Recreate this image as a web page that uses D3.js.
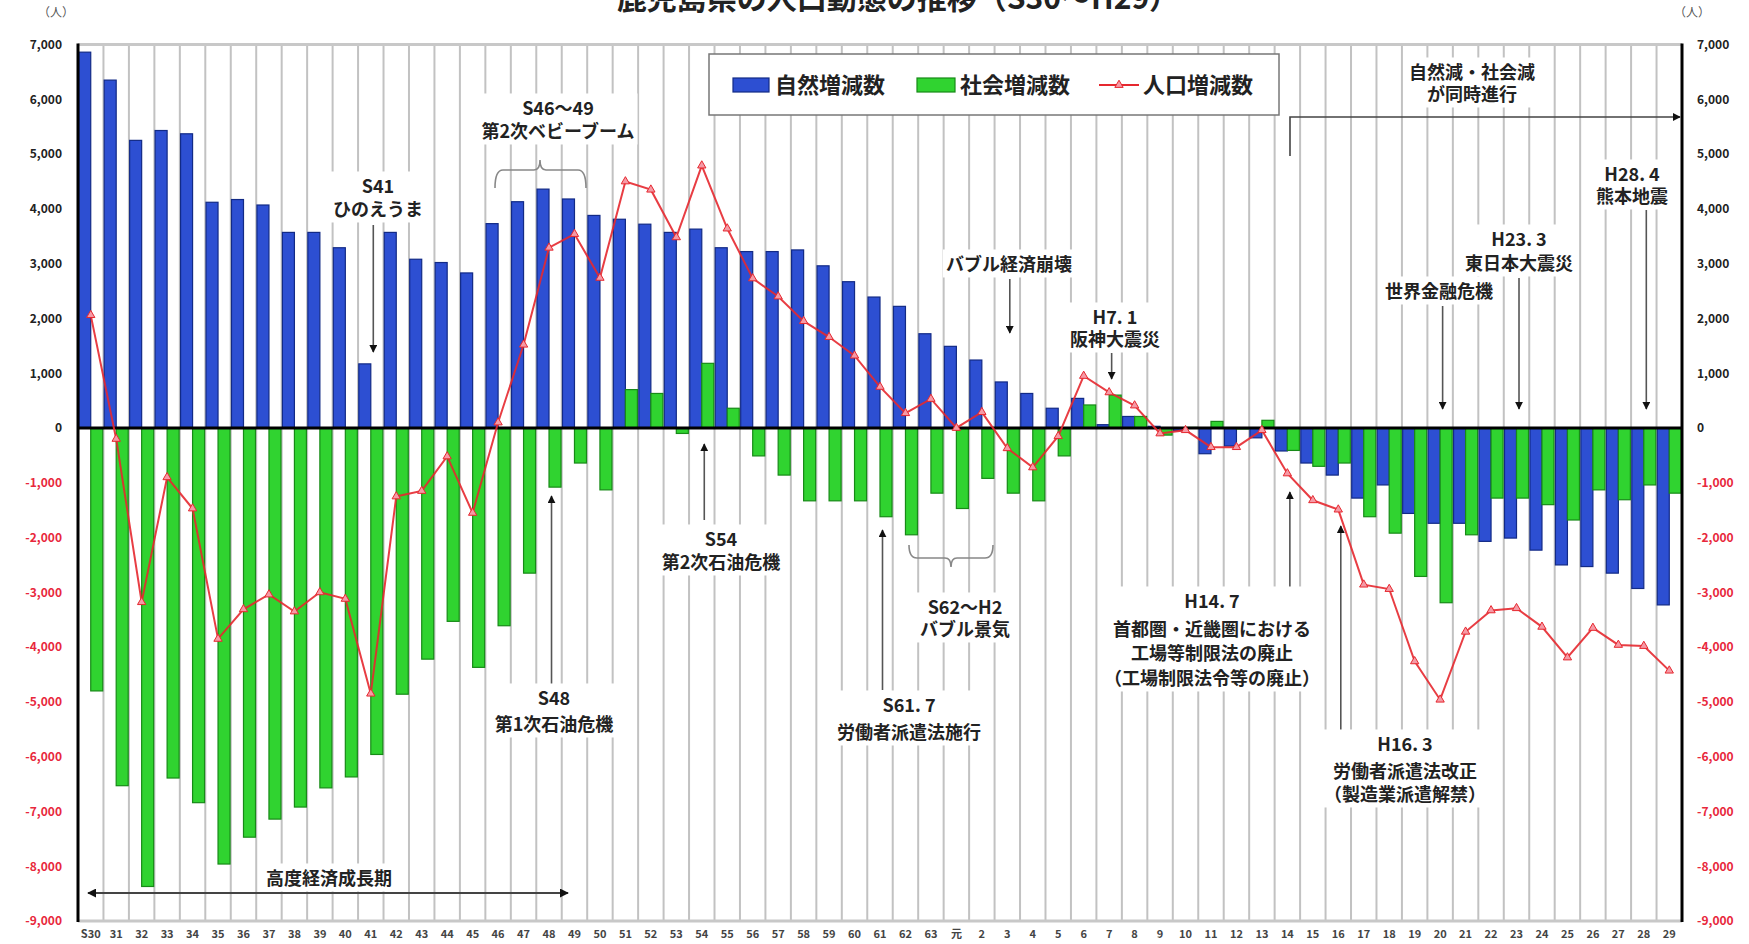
<!DOCTYPE html>
<html>
<head>
<meta charset="utf-8">
<script src="https://cdn.jsdelivr.net/npm/d3@7"></script>
<style>
body { margin: 0; background: #fff; }
svg { display: block; font-family: "Noto Sans CJK JP", "Noto Sans", sans-serif; }
</style>
</head>
<body>
<svg id="chart" width="1749" height="944"></svg>
<script>
// categories: S30 .. S63, H元 .. H29
var categories = ["S30","31","32","33","34","35","36","37","38","39","40","41","42","43","44","45","46","47","48","49",
  "50","51","52","53","54","55","56","57","58","59","60","61","62","63","元","2","3","4","5","6","7","8","9",
  "10","11","12","13","14","15","16","17","18","19","20","21","22","23","24","25","26","27","28","29"];

// 自然増減数 (blue bars)
var naturalChange = [6860,6350,5250,5430,5370,4120,4170,4070,3570,3570,3290,1170,3570,3080,3020,2830,3730,4130,4360,4180,
  3880,3810,3720,3570,3630,3290,3220,3220,3250,2960,2670,2390,2220,1720,1490,1240,840,630,360,540,60,210,30,
  -50,-470,-330,-180,-420,-640,-860,-1280,-1040,-1560,-1740,-1740,-2070,-2010,-2230,-2500,-2530,-2650,-2930,-3230];

// 社会増減数 (green bars)
var socialChange = [-4800,-6530,-8370,-6390,-6840,-7960,-7470,-7140,-6920,-6570,-6370,-5960,-4860,-4220,-3530,-4370,-3610,-2650,-1080,-640,
  -1130,700,630,-100,1180,360,-510,-860,-1330,-1330,-1330,-1620,-1950,-1190,-1470,-920,-1190,-1330,-510,420,600,210,-130,
  10,120,-20,140,-410,-700,-640,-1620,-1920,-2710,-3190,-1950,-1280,-1280,-1400,-1680,-1130,-1310,-1040,-1190];

// 人口増減数 (red line)
var totalChange = [2060,-200,-3180,-900,-1470,-3850,-3310,-3040,-3350,-3000,-3120,-4850,-1250,-1150,-520,-1550,100,1520,3290,3540,
  2740,4500,4350,3480,4790,3640,2730,2400,1950,1660,1320,750,270,530,0,290,-370,-720,-150,950,650,410,-100,
  -40,-350,-350,-40,-830,-1320,-1490,-2860,-2940,-4260,-4960,-3720,-3330,-3290,-3630,-4190,-3650,-3960,-3980,-4430];

var yTicks = [7000,6000,5000,4000,3000,2000,1000,0,-1000,-2000,-3000,-4000,-5000,-6000,-7000,-8000,-9000];

var seriesNames = ["自然増減数","社会増減数","人口増減数"];

var svg = d3.select('#chart');
var plotLeft = 78, plotRight = 1682, plotTop = 44.5, plotBottom = 921;

var x = d3.scaleBand().domain(categories).range([plotLeft, plotRight]).padding(0);
var sub = d3.scaleBand().domain(['natural','social']).range([0, x.bandwidth()]).paddingOuter(0.06);
var y = d3.scaleLinear().domain([-9000, 7000]).range([plotBottom, plotTop]);

var blue = '#2d4fd2', blueEdge = '#122a86';
var green = '#30d330', greenEdge = '#178a17';
var red = '#e6282f', negColor = '#e8283c';

// title (clipped at top like the source)
svg.append('text')
  .attr('x', 898).attr('y', 9)
  .attr('text-anchor', 'middle')
  .attr('font-size', 30).attr('font-weight', 700).attr('fill', '#222')
  .text('鹿児島県の人口動態の推移（S30～H29）');

// vertical grid at category boundaries
svg.append('g').selectAll('line')
  .data(categories.slice(1))
  .enter().append('line')
    .attr('x1', function(d) { return x(d); })
    .attr('x2', function(d) { return x(d); })
    .attr('y1', plotTop).attr('y2', plotBottom)
    .attr('stroke', '#c2c2c2').attr('stroke-width', 2);

// top / bottom frame
[plotTop, plotBottom].forEach(function(v) {
  svg.append('line').attr('x1', plotLeft).attr('x2', plotRight).attr('y1', v).attr('y2', v)
    .attr('stroke', '#c8c8c8').attr('stroke-width', 3);
});

// bars
var bars = svg.append('g');
bars.selectAll('.nat')
  .data(categories)
  .enter().append('rect')
    .attr('class', 'nat')
    .attr('x', function(d) { return x(d) + sub('natural'); })
    .attr('width', sub.bandwidth())
    .attr('y', function(d, i) { return y(Math.max(0, naturalChange[i])); })
    .attr('height', function(d, i) { return Math.abs(y(naturalChange[i]) - y(0)); })
    .attr('fill', blue).attr('stroke', blueEdge).attr('stroke-width', 1.2);

bars.selectAll('.soc')
  .data(categories)
  .enter().append('rect')
    .attr('class', 'soc')
    .attr('x', function(d) { return x(d) + sub('social'); })
    .attr('width', sub.bandwidth())
    .attr('y', function(d, i) { return y(Math.max(0, socialChange[i])); })
    .attr('height', function(d, i) { return Math.abs(y(socialChange[i]) - y(0)); })
    .attr('fill', green).attr('stroke', greenEdge).attr('stroke-width', 1.2);

// zero line and side axes
svg.append('line').attr('x1', plotLeft).attr('x2', plotRight).attr('y1', y(0)).attr('y2', y(0))
  .attr('stroke', '#000').attr('stroke-width', 3);
[plotLeft, plotRight].forEach(function(v) {
  svg.append('line').attr('x1', v).attr('x2', v).attr('y1', plotTop - 1).attr('y2', plotBottom + 1)
    .attr('stroke', '#000').attr('stroke-width', 3);
});

var fmt = function(d) { return d < 0 ? '-' + d3.format(',')(-d) : d3.format(',')(d); };

var yAxisL = svg.append('g').attr('transform', 'translate(' + plotLeft + ',0)')
  .call(d3.axisLeft(y).tickValues(yTicks).tickSize(0).tickPadding(16).tickFormat(fmt));
var yAxisR = svg.append('g').attr('transform', 'translate(' + plotRight + ',0)')
  .call(d3.axisRight(y).tickValues(yTicks).tickSize(0).tickPadding(15).tickFormat(fmt));
[yAxisL, yAxisR].forEach(function(g) {
  g.select('.domain').remove();
  g.selectAll('text')
    .attr('font-family', '"Noto Sans CJK JP", sans-serif')
    .attr('font-size', 12).attr('font-weight', 700)
    .attr('fill', function(d) { return d < 0 ? negColor : '#222'; });
});

var xAxis = svg.append('g').attr('transform', 'translate(0,' + plotBottom + ')')
  .call(d3.axisBottom(x).tickSize(0).tickPadding(9));
xAxis.select('.domain').remove();
xAxis.selectAll('text')
  .attr('font-family', '"Noto Sans CJK JP", sans-serif')
  .attr('font-size', 11).attr('font-weight', 700).attr('fill', '#444');

// unit labels
svg.append('text').attr('x', 56).attr('y', 17).attr('text-anchor', 'middle')
  .attr('font-size', 12).attr('fill', '#555').text('（人）');
svg.append('text').attr('x', 1692).attr('y', 17).attr('text-anchor', 'middle')
  .attr('font-size', 12).attr('fill', '#555').text('（人）');

// population change line
var line = d3.line()
  .x(function(d) { return x(d) + x.bandwidth() / 2; })
  .y(function(d, i) { return y(totalChange[i]); });

svg.append('path')
  .datum(categories)
  .attr('d', line)
  .attr('fill', 'none').attr('stroke', red).attr('stroke-width', 2).attr('opacity', 0.9);

var tri = d3.symbol().type(d3.symbolTriangle).size(30);
svg.append('g').selectAll('path')
  .data(categories)
  .enter().append('path')
    .attr('d', tri)
    .attr('transform', function(d, i) {
      return 'translate(' + (x(d) + x.bandwidth() / 2) + ',' + y(totalChange[i]) + ')';
    })
    .attr('fill', '#f59aa6').attr('stroke', red).attr('stroke-width', 1);

// arrowheads
var defs = svg.append('defs');
defs.append('marker').attr('id', 'ah')
  .attr('viewBox', '0 0 10 10').attr('refX', 9).attr('refY', 5)
  .attr('markerWidth', 5).attr('markerHeight', 5).attr('orient', 'auto-start-reverse')
  .append('path').attr('d', 'M0,0 L10,5 L0,10 Z').attr('fill', '#111');

// annotations
var notes = [
  {lines: ['S41', 'ひのえうま'], x: 378, y: [187, 210]},
  {lines: ['S46～49', '第2次ベビーブーム'], x: 558, y: [109, 132]},
  {lines: ['自然減・社会減', 'が同時進行'], x: 1472, y: [73, 95]},
  {lines: ['H28. 4', '熊本地震'], x: 1632, y: [175, 197]},
  {lines: ['H23. 3', '東日本大震災'], x: 1519, y: [240, 264]},
  {lines: ['世界金融危機'], x: 1439, y: [292]},
  {lines: ['バブル経済崩壊'], x: 1009, y: [265]},
  {lines: ['H7. 1', '阪神大震災'], x: 1115, y: [318, 340]},
  {lines: ['S54', '第2次石油危機'], x: 721, y: [540, 563]},
  {lines: ['S48', '第1次石油危機'], x: 554, y: [699, 725]},
  {lines: ['S61. 7', '労働者派遣法施行'], x: 909, y: [706, 733]},
  {lines: ['S62～H2', 'バブル景気'], x: 965, y: [608, 630]},
  {lines: ['H14. 7', '首都圏・近畿圏における', '工場等制限法の廃止', '（工場制限法令等の廃止）'], x: 1212, y: [602, 630, 654, 679]},
  {lines: ['H16. 3', '労働者派遣法改正', '（製造業派遣解禁）'], x: 1405, y: [745, 772, 795]},
  {lines: ['高度経済成長期'], x: 329, y: [879]}
];

var arrows = [
  {cat: '41', y1: 225, y2: 352},
  {cat: '48', y1: 684, y2: 496},
  {cat: '54', y1: 520, y2: 444},
  {cat: '61', y1: 690, y2: 530},
  {cat: '3', y1: 279, y2: 333},
  {cat: '7', y1: 353, y2: 379},
  {cat: '14', y1: 588, y2: 492},
  {cat: '16', y1: 730, y2: 526},
  {cat: '20', y1: 306, y2: 409},
  {cat: '23', y1: 278, y2: 409},
  {cat: '28', y1: 210, y2: 409}
];

var ann = svg.append('g');
arrows.forEach(function(a) {
  var ax = x(a.cat) + x.bandwidth() / 2 + 2.5;
  ann.append('line').attr('x1', ax).attr('x2', ax).attr('y1', a.y1).attr('y2', a.y2)
    .attr('stroke', '#555').attr('stroke-width', 1.6).attr('marker-end', 'url(#ah)');
});

// 自然減・社会減 bracket arrow
ann.append('path').attr('d', 'M1290,156 L1290,117 L1680,117')
  .attr('fill', 'none').attr('stroke', '#444').attr('stroke-width', 1.6).attr('marker-end', 'url(#ah)');
// 高度経済成長期 double arrow
ann.append('line').attr('x1', 88).attr('x2', 568).attr('y1', 893).attr('y2', 893)
  .attr('stroke', '#444').attr('stroke-width', 1.8)
  .attr('marker-start', 'url(#ah)').attr('marker-end', 'url(#ah)');

// braces
function brace(x1, x2, xp, yEnd, yMid, yPeak) {
  return 'M' + x1 + ',' + yEnd + ' Q' + x1 + ',' + yMid + ' ' + (x1 + 8) + ',' + yMid +
    ' L' + (xp - 6) + ',' + yMid + ' Q' + xp + ',' + yMid + ' ' + xp + ',' + yPeak +
    ' Q' + xp + ',' + yMid + ' ' + (xp + 6) + ',' + yMid +
    ' L' + (x2 - 8) + ',' + yMid + ' Q' + x2 + ',' + yMid + ' ' + x2 + ',' + yEnd;
}
ann.append('path').attr('d', brace(495, 586, 540, 188, 170, 160))
  .attr('fill', 'none').attr('stroke', '#888').attr('stroke-width', 1.6);
ann.append('path').attr('d', brace(909, 993, 951, 545, 558, 567))
  .attr('fill', 'none').attr('stroke', '#888').attr('stroke-width', 1.6);

notes.forEach(function(n) {
  var g = ann.append('g');
  var bg = g.append('rect').attr('fill', '#fff');
  n.lines.forEach(function(t, i) {
    g.append('text').attr('x', n.x).attr('y', n.y[i]).attr('dy', '0.36em')
      .attr('text-anchor', 'middle')
      .attr('font-size', 18).attr('font-weight', 700).attr('fill', '#222')
      .text(t);
  });
  var b = g.node().getBBox();
  bg.attr('x', b.x - 3).attr('y', b.y - 1).attr('width', b.width + 6).attr('height', b.height + 2);
});

// legend
var lg = svg.append('g');
lg.append('rect').attr('x', 709).attr('y', 54).attr('width', 570).attr('height', 61)
  .attr('fill', '#fff').attr('stroke', '#777').attr('stroke-width', 1.5);
lg.append('rect').attr('x', 733).attr('y', 78).attr('width', 36).attr('height', 14)
  .attr('fill', blue).attr('stroke', blueEdge).attr('stroke-width', 1.2);
lg.append('rect').attr('x', 917).attr('y', 78).attr('width', 38).attr('height', 14)
  .attr('fill', green).attr('stroke', greenEdge).attr('stroke-width', 1.2);
lg.append('line').attr('x1', 1099).attr('x2', 1139).attr('y1', 85).attr('y2', 85)
  .attr('stroke', red).attr('stroke-width', 2);
lg.append('path').attr('d', tri).attr('transform', 'translate(1119,85)')
  .attr('fill', '#f59aa6').attr('stroke', red).attr('stroke-width', 1);
[[775, seriesNames[0]], [960, seriesNames[1]], [1143, seriesNames[2]]].forEach(function(it) {
  lg.append('text').attr('x', it[0]).attr('y', 85).attr('dy', '0.36em')
    .attr('font-size', 22).attr('font-weight', 700).attr('fill', '#222').text(it[1]);
});
</script>
</body>
</html>
